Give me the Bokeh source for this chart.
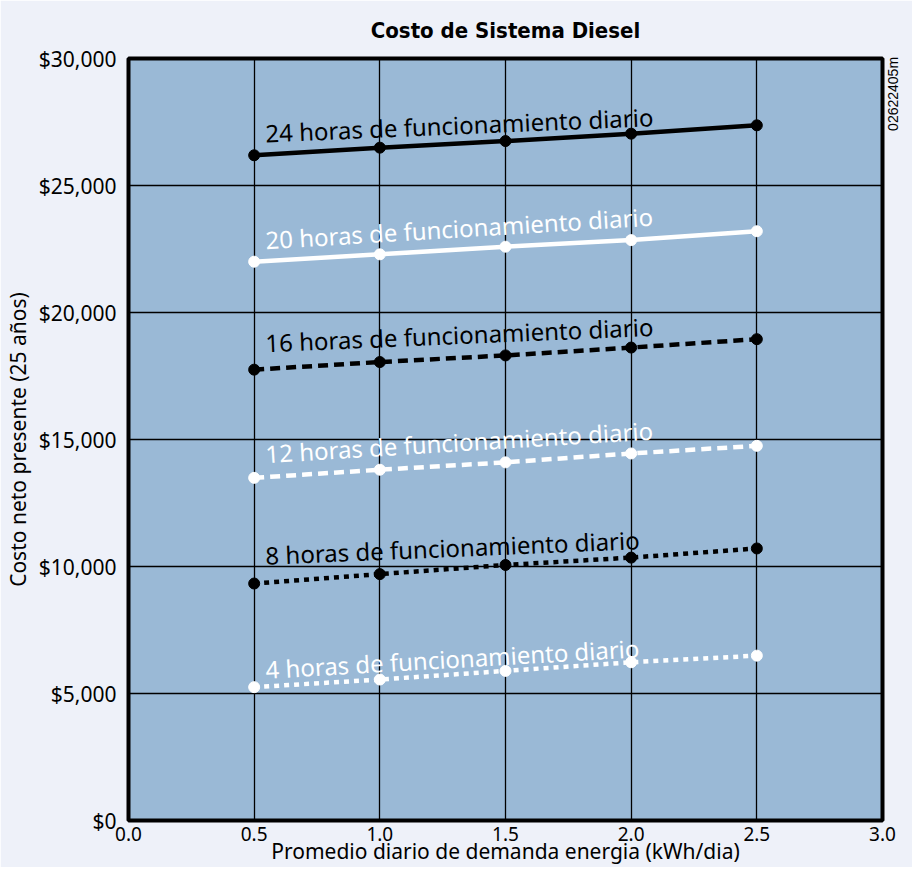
import math
from bokeh.plotting import figure
from bokeh.models import Range1d, NumeralTickFormatter, FixedTicker, LinearAxis
from bokeh.embed import file_html
from bokeh.resources import INLINE
from bokeh.core.properties import value

# ---- data ----
demand = [0.5, 1.0, 1.5, 2.0, 2.5]
cost_24h = [26190, 26490, 26750, 27040, 27370]
cost_20h = [22000, 22290, 22590, 22850, 23200]
cost_16h = [17750, 18050, 18310, 18620, 18950]
cost_12h = [13490, 13810, 14100, 14450, 14750]
cost_8h = [9330, 9700, 10060, 10350, 10710]
cost_4h = [5250, 5550, 5890, 6230, 6490]
series_labels = [
    "24 horas de funcionamiento diario",
    "20 horas de funcionamiento diario",
    "16 horas de funcionamiento diario",
    "12 horas de funcionamiento diario",
    "8 horas de funcionamiento diario",
    "4 horas de funcionamiento diario",
]
x_ticks = [0.0, 0.5, 1.0, 1.5, 2.0, 2.5, 3.0]
y_ticks = [0, 5000, 10000, 15000, 20000, 25000, 30000]
figure_code = "02622405m"

series = [cost_24h, cost_20h, cost_16h, cost_12h, cost_8h, cost_4h]

# ---- styles ----
colors = ["black", "white", "black", "white", "black", "white"]
dashes = ["solid", "solid", "10 6", "10 6", "5 5", "5 5"]
label_angles = [2.4, 3.5, 2.4, 3.5, 2.4, 3.3]
label_dy = [880, 860, 1060, 950, 1110, 700]
label_dx = 0.045
code_pos = 27150

FONT = "Noto Sans"

p = figure(width=912, height=867, output_backend="svg", toolbar_location=None,
           x_range=Range1d(0, 3), y_range=Range1d(0, 30000),
           min_border_left=123, min_border_right=0, min_border_top=58, min_border_bottom=40)

p.background_fill_color = "#9ab9d6"
p.border_fill_color = "#eef1f9"
p.outline_line_color = "black"
p.outline_line_width = 4

p.title.text = "Costo de Sistema Diesel"
p.title.align = "center"
p.title.vertical_align = "top"
p.title.text_font = "DejaVu Sans Condensed, Roboto"
p.title.text_font_size = "22px"
p.title.text_font_style = "bold"
p.title.text_color = "black"
p.title.standoff = 28

p.xaxis.ticker = FixedTicker(ticks=x_ticks)
p.yaxis.ticker = FixedTicker(ticks=y_ticks)
p.xaxis.formatter = NumeralTickFormatter(format="0.0")
p.yaxis.formatter = NumeralTickFormatter(format="$0,0")
for ax in (p.xaxis, p.yaxis):
    ax.axis_line_color = None
    ax.major_tick_line_color = None
    ax.minor_tick_line_color = None
    ax.major_tick_out = 0
    ax.major_tick_in = 0
    ax.minor_tick_out = 0
    ax.major_label_text_font = FONT
    ax.major_label_text_color = "black"
    ax.axis_label_text_font = FONT
    ax.axis_label_text_font_style = "normal"
    ax.axis_label_text_color = "black"
p.xaxis.major_label_text_font_size = "19px"
p.yaxis.major_label_text_font_size = "21px"
p.xaxis.axis_label = "Promedio diario de demanda energia (kWh/dia)"
p.yaxis.axis_label = "Costo neto presente (25 años)"
p.xaxis.axis_label_text_font_size = "21px"
p.yaxis.axis_label_text_font_size = "21px"
p.xaxis.major_label_standoff = 6
p.yaxis.major_label_standoff = 12
p.xaxis.axis_label_standoff = -7
p.yaxis.axis_label_standoff = 4

p.xgrid.ticker = FixedTicker(ticks=x_ticks[1:-1])
p.ygrid.ticker = FixedTicker(ticks=y_ticks[1:-1])
for g in (p.xgrid, p.ygrid):
    g.grid_line_color = "black"
    g.grid_line_width = 1.3
    g.grid_line_alpha = 1.0

for vals, name, col, dash, ang, dy in zip(series, series_labels, colors, dashes, label_angles, label_dy):
    p.line(demand, vals, line_color=col, line_width=4.5, line_dash=dash, line_cap="butt")
    p.scatter(demand, vals, size=11, fill_color=col, line_color=col)
    p.text(x=[demand[0] + label_dx], y=[vals[0] + dy], text=[name], angle=ang, angle_units="deg",
           text_font=value(FONT), text_font_size="24px", text_color=col,
           text_align="left", text_baseline="alphabetic")

rax = LinearAxis(ticker=FixedTicker(ticks=[code_pos]),
                 major_label_overrides={code_pos: figure_code},
                 major_label_orientation=math.pi / 2,
                 axis_line_color=None, major_tick_line_color=None, minor_tick_line_color=None,
                 major_tick_out=0, major_tick_in=0, minor_tick_out=0,
                 major_label_standoff=11, axis_label_standoff=0,
                 major_label_text_font="Liberation Sans", major_label_text_font_size="14px",
                 major_label_text_color="black")
p.add_layout(rax, "right")

open("out.html", "w").write(file_html(p, INLINE))
